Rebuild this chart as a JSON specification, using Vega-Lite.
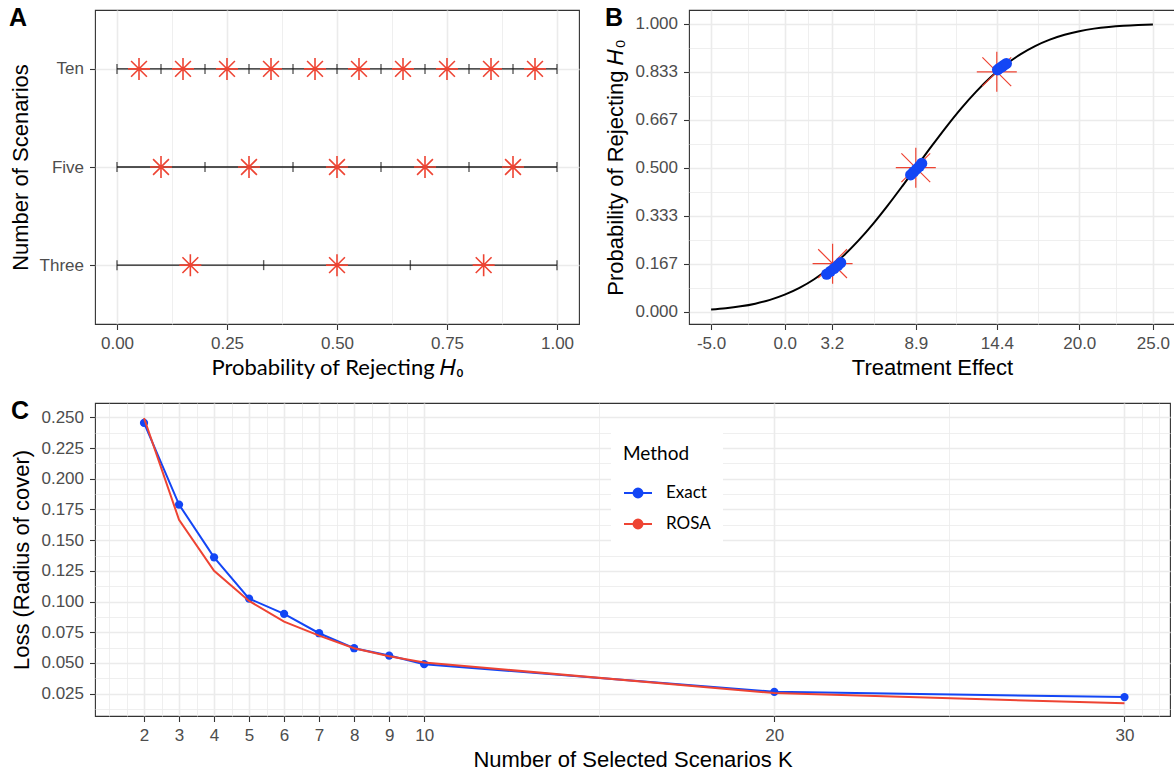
{
  "$schema": "https://vega.github.io/schema/vega-lite/v6.json",
  "background": "white",
  "padding": {"left": 8, "top": 5, "right": 0, "bottom": 0},
  "config": {
    "view": {"stroke": "#333333", "strokeWidth": 1.1},
    "axis": {
      "domain": false,
      "labelFont": "Liberation Sans", "labelFontSize": 17, "labelColor": "#4D4D4D",
      "labelPadding": 6, "labelOverlap": false, "labelFlush": false,
      "titleFont": "Liberation Sans", "titleFontSize": 22, "titleFontWeight": "normal", "titleColor": "#000000",
      "tickColor": "#333333", "tickSize": 5.5, "tickWidth": 1.1, "tickCount": 100,
      "grid": true, "gridColor": "#EBEBEB", "gridWidth": 1.6
    },
    "axisX": {"titlePadding": 6},
    "axisY": {"titlePadding": 7},
    "title": {"font": "Liberation Sans", "fontSize": 25, "fontWeight": "bold", "color": "#000000", "anchor": "start", "frame": "bounds", "baseline": "alphabetic", "offset": -21}
  },
  "datasets": {
    "a_lines": [
      {"scenarios": "Ten", "from": 0, "to": 1},
      {"scenarios": "Five", "from": 0, "to": 1},
      {"scenarios": "Three", "from": 0, "to": 1}
    ],
    "a_bounds": [
      {"scenarios": "Ten", "boundary": 0}, {"scenarios": "Ten", "boundary": 0.1}, {"scenarios": "Ten", "boundary": 0.2},
      {"scenarios": "Ten", "boundary": 0.3}, {"scenarios": "Ten", "boundary": 0.4}, {"scenarios": "Ten", "boundary": 0.5},
      {"scenarios": "Ten", "boundary": 0.6}, {"scenarios": "Ten", "boundary": 0.7}, {"scenarios": "Ten", "boundary": 0.8},
      {"scenarios": "Ten", "boundary": 0.9}, {"scenarios": "Ten", "boundary": 1},
      {"scenarios": "Five", "boundary": 0}, {"scenarios": "Five", "boundary": 0.2}, {"scenarios": "Five", "boundary": 0.4},
      {"scenarios": "Five", "boundary": 0.6}, {"scenarios": "Five", "boundary": 0.8}, {"scenarios": "Five", "boundary": 1},
      {"scenarios": "Three", "boundary": 0}, {"scenarios": "Three", "boundary": 0.3333}, {"scenarios": "Three", "boundary": 0.6667},
      {"scenarios": "Three", "boundary": 1}
    ],
    "a_stars": [
      {"scenarios": "Ten", "midpoint": 0.05}, {"scenarios": "Ten", "midpoint": 0.15}, {"scenarios": "Ten", "midpoint": 0.25},
      {"scenarios": "Ten", "midpoint": 0.35}, {"scenarios": "Ten", "midpoint": 0.45}, {"scenarios": "Ten", "midpoint": 0.55},
      {"scenarios": "Ten", "midpoint": 0.65}, {"scenarios": "Ten", "midpoint": 0.75}, {"scenarios": "Ten", "midpoint": 0.85},
      {"scenarios": "Ten", "midpoint": 0.95},
      {"scenarios": "Five", "midpoint": 0.1}, {"scenarios": "Five", "midpoint": 0.3}, {"scenarios": "Five", "midpoint": 0.5},
      {"scenarios": "Five", "midpoint": 0.7}, {"scenarios": "Five", "midpoint": 0.9},
      {"scenarios": "Three", "midpoint": 0.1667}, {"scenarios": "Three", "midpoint": 0.5}, {"scenarios": "Three", "midpoint": 0.8333}
    ],
    "b_curve": [
      {"effect": -5, "power": 0.0073}, {"effect": -4, "power": 0.0117}, {"effect": -3, "power": 0.0183},
      {"effect": -2, "power": 0.0277}, {"effect": -1, "power": 0.0409}, {"effect": 0, "power": 0.0589},
      {"effect": 1, "power": 0.0825}, {"effect": 2, "power": 0.1126}, {"effect": 3, "power": 0.1499},
      {"effect": 4, "power": 0.1946}, {"effect": 5, "power": 0.2466}, {"effect": 6, "power": 0.305},
      {"effect": 7, "power": 0.3692}, {"effect": 8, "power": 0.4372}, {"effect": 9, "power": 0.507},
      {"effect": 10, "power": 0.5766}, {"effect": 11, "power": 0.6439}, {"effect": 12, "power": 0.7071},
      {"effect": 13, "power": 0.7644}, {"effect": 14, "power": 0.8149}, {"effect": 15, "power": 0.8582},
      {"effect": 16, "power": 0.894}, {"effect": 17, "power": 0.9227}, {"effect": 18, "power": 0.9451},
      {"effect": 19, "power": 0.962}, {"effect": 20, "power": 0.9745}, {"effect": 21, "power": 0.9833},
      {"effect": 22, "power": 0.9893}, {"effect": 23, "power": 0.9934}, {"effect": 24, "power": 0.996},
      {"effect": 25, "power": 0.9977}
    ],
    "b_points": [
      {"effect": 2.85, "power": 0.13}, {"effect": 3.1, "power": 0.14}, {"effect": 3.35, "power": 0.15},
      {"effect": 3.6, "power": 0.16}, {"effect": 3.8, "power": 0.17},
      {"effect": 8.55, "power": 0.475}, {"effect": 8.75, "power": 0.485}, {"effect": 8.95, "power": 0.495},
      {"effect": 9.15, "power": 0.505}, {"effect": 9.3, "power": 0.515},
      {"effect": 14.45, "power": 0.84}, {"effect": 14.6, "power": 0.846}, {"effect": 14.75, "power": 0.851},
      {"effect": 14.9, "power": 0.857}, {"effect": 15.05, "power": 0.862}
    ],
    "b_stars": [
      {"effect": 3.25, "power": 0.1667}, {"effect": 8.9, "power": 0.5}, {"effect": 14.4, "power": 0.8333}
    ],
    "c_loss": [
      {"k": 2, "method": "Exact", "loss": 0.2455}, {"k": 3, "method": "Exact", "loss": 0.179},
      {"k": 4, "method": "Exact", "loss": 0.136}, {"k": 5, "method": "Exact", "loss": 0.1024},
      {"k": 6, "method": "Exact", "loss": 0.09}, {"k": 7, "method": "Exact", "loss": 0.0742},
      {"k": 8, "method": "Exact", "loss": 0.062}, {"k": 9, "method": "Exact", "loss": 0.056},
      {"k": 10, "method": "Exact", "loss": 0.049}, {"k": 20, "method": "Exact", "loss": 0.0265},
      {"k": 30, "method": "Exact", "loss": 0.0222},
      {"k": 2, "method": "ROSA", "loss": 0.2495}, {"k": 3, "method": "ROSA", "loss": 0.1666},
      {"k": 4, "method": "ROSA", "loss": 0.125}, {"k": 5, "method": "ROSA", "loss": 0.1005},
      {"k": 6, "method": "ROSA", "loss": 0.0837}, {"k": 7, "method": "ROSA", "loss": 0.0723},
      {"k": 8, "method": "ROSA", "loss": 0.062}, {"k": 9, "method": "ROSA", "loss": 0.0555},
      {"k": 10, "method": "ROSA", "loss": 0.0503}, {"k": 20, "method": "ROSA", "loss": 0.0255},
      {"k": 30, "method": "ROSA", "loss": 0.0171}
    ]
  },
  "spacing": 18,
  "vconcat": [
    {
      "spacing": 24,
      "hconcat": [
        {
          "width": 484, "height": 314,
          "title": {"text": "A"},
          "layer": [
            {
              "data": {"name": "a_lines"},
              "mark": {"type": "rule", "color": "#1A1A1A", "strokeWidth": 1.4},
              "encoding": {
                "x": {
                  "field": "from", "type": "quantitative",
                  "scale": {"domain": [-0.05, 1.05], "nice": false, "zero": false},
                  "axis": {
                    "title": "Probability of Rejecting 𝐻₀", "titleFont": "Lato",
                    "values": [0, 0.125, 0.25, 0.375, 0.5, 0.625, 0.75, 0.875, 1],
                    "labelExpr": "indexof([0, 0.25, 0.5, 0.75, 1], datum.value) >= 0 ? format(datum.value, '.2f') : ''",
                    "tickOpacity": {"condition": {"test": "indexof([0, 0.25, 0.5, 0.75, 1], datum.value) >= 0", "value": 1}, "value": 0},
                    "gridWidth": {"condition": {"test": "indexof([0, 0.25, 0.5, 0.75, 1], datum.value) >= 0", "value": 1.6}, "value": 0.8}
                  }
                },
                "x2": {"field": "to"},
                "y": {
                  "field": "scenarios", "type": "ordinal",
                  "scale": {"type": "point", "domain": ["Ten", "Five", "Three"], "padding": 0.6},
                  "axis": {"title": "Number of Scenarios", "grid": true}
                }
              }
            },
            {
              "data": {"name": "a_bounds"},
              "mark": {"type": "tick", "orient": "vertical", "color": "#1A1A1A", "thickness": 1.4, "size": 10},
              "encoding": {
                "x": {"field": "boundary", "type": "quantitative"},
                "y": {"field": "scenarios", "type": "ordinal"}
              }
            },
            {
              "data": {"name": "a_stars"},
              "mark": {"type": "point", "shape": "M-1,0L1,0M0,-1L0,1M-0.72,-0.72L0.72,0.72M-0.72,0.72L0.72,-0.72", "size": 484, "filled": false, "color": "#EE4433", "strokeWidth": 1.6, "opacity": 1},
              "encoding": {
                "x": {"field": "midpoint", "type": "quantitative"},
                "y": {"field": "scenarios", "type": "ordinal"}
              }
            }
          ]
        },
        {
          "width": 486, "height": 314,
          "title": {"text": "B"},
          "layer": [
            {
              "data": {"name": "b_curve"},
              "mark": {"type": "line", "color": "#000000", "strokeWidth": 2, "interpolate": "monotone"},
              "encoding": {
                "x": {
                  "field": "effect", "type": "quantitative",
                  "scale": {"domain": [-6.5, 26.5], "nice": false, "zero": false},
                  "axis": {
                    "title": "Treatment Effect",
                    "values": [-5, -2.5, 0, 1.6, 3.2, 6.05, 8.9, 11.65, 14.4, 17.2, 20, 22.5, 25],
                    "labelExpr": "indexof([-5, 0, 3.2, 8.9, 14.4, 20, 25], datum.value) >= 0 ? replace(format(datum.value, '.1f'), '−', '-') : ''",
                    "tickOpacity": {"condition": {"test": "indexof([-5, 0, 3.2, 8.9, 14.4, 20, 25], datum.value) >= 0", "value": 1}, "value": 0},
                    "gridWidth": {"condition": {"test": "indexof([-5, 0, 3.2, 8.9, 14.4, 20, 25], datum.value) >= 0", "value": 1.6}, "value": 0.8}
                  }
                },
                "y": {
                  "field": "power", "type": "quantitative",
                  "scale": {"domain": [-0.043, 1.048], "nice": false, "zero": false},
                  "axis": {
                    "title": "Probability of Rejecting 𝐻₀",
                    "values": [0, 0.0833333, 0.1666667, 0.25, 0.3333333, 0.4166667, 0.5, 0.5833333, 0.6666667, 0.75, 0.8333333, 0.9166667, 1],
                    "labelExpr": "indexof([0, 0.1666667, 0.3333333, 0.5, 0.6666667, 0.8333333, 1], datum.value) >= 0 ? format(datum.value, '.3f') : ''",
                    "tickOpacity": {"condition": {"test": "indexof([0, 0.1666667, 0.3333333, 0.5, 0.6666667, 0.8333333, 1], datum.value) >= 0", "value": 1}, "value": 0},
                    "gridWidth": {"condition": {"test": "indexof([0, 0.1666667, 0.3333333, 0.5, 0.6666667, 0.8333333, 1], datum.value) >= 0", "value": 1.6}, "value": 0.8}
                  }
                }
              }
            },
            {
              "data": {"name": "b_stars"},
              "mark": {"type": "point", "shape": "M-1,0L1,0M0,-1L0,1M-0.72,-0.72L0.72,0.72M-0.72,0.72L0.72,-0.72", "size": 1600, "filled": false, "color": "#EE4433", "strokeWidth": 1.2, "opacity": 1},
              "encoding": {
                "x": {"field": "effect", "type": "quantitative"},
                "y": {"field": "power", "type": "quantitative"}
              }
            },
            {
              "data": {"name": "b_points"},
              "mark": {"type": "point", "shape": "circle", "filled": true, "size": 125, "color": "#1346F5", "opacity": 1},
              "encoding": {
                "x": {"field": "effect", "type": "quantitative"},
                "y": {"field": "power", "type": "quantitative"}
              }
            }
          ]
        }
      ]
    },
    {
      "width": 1075, "height": 313,
      "title": {"text": "C"},
      "data": {"name": "c_loss"},
      "layer": [
        {
          "transform": [{"filter": "datum.method === 'Exact'"}],
          "mark": {"type": "line", "strokeWidth": 2},
          "encoding": {
            "x": {
              "field": "k", "type": "quantitative",
              "scale": {"domain": [0.6, 31.3], "nice": false, "zero": false},
              "axis": {
                "title": "Number of Selected Scenarios K",
                "values": [1, 1.5, 2, 2.5, 3, 3.5, 4, 4.5, 5, 5.5, 6, 6.5, 7, 7.5, 8, 8.5, 9, 9.5, 10, 15, 20, 25, 30, 30.5, 31],
                "labelExpr": "indexof([2, 3, 4, 5, 6, 7, 8, 9, 10, 20, 30], datum.value) >= 0 ? format(datum.value, 'd') : ''",
                "tickOpacity": {"condition": {"test": "indexof([2, 3, 4, 5, 6, 7, 8, 9, 10, 20, 30], datum.value) >= 0", "value": 1}, "value": 0},
                "gridWidth": {"condition": {"test": "indexof([2, 3, 4, 5, 6, 7, 8, 9, 10, 20, 30], datum.value) >= 0", "value": 1.6}, "value": 0.8}
              }
            },
            "y": {
              "field": "loss", "type": "quantitative",
              "scale": {"domain": [0.0068, 0.2617], "nice": false, "zero": false},
              "axis": {
                "title": "Loss (Radius of cover)",
                "values": [0.0125, 0.025, 0.0375, 0.05, 0.0625, 0.075, 0.0875, 0.1, 0.1125, 0.125, 0.1375, 0.15, 0.1625, 0.175, 0.1875, 0.2, 0.2125, 0.225, 0.2375, 0.25],
                "labelExpr": "indexof([0.025, 0.05, 0.075, 0.1, 0.125, 0.15, 0.175, 0.2, 0.225, 0.25], datum.value) >= 0 ? format(datum.value, '.3f') : ''",
                "tickOpacity": {"condition": {"test": "indexof([0.025, 0.05, 0.075, 0.1, 0.125, 0.15, 0.175, 0.2, 0.225, 0.25], datum.value) >= 0", "value": 1}, "value": 0},
                "gridWidth": {"condition": {"test": "indexof([0.025, 0.05, 0.075, 0.1, 0.125, 0.15, 0.175, 0.2, 0.225, 0.25], datum.value) >= 0", "value": 1.6}, "value": 0.8}
              }
            },
            "color": {
              "field": "method", "type": "nominal",
              "scale": {"domain": ["Exact", "ROSA"], "range": ["#1346F5", "#EE4433"]},
              "legend": {
                "title": "Method", "orient": "none", "legendX": 516, "legendY": 423,
                "fillColor": "white", "padding": 12,
                "titleFont": "Lato", "titleFontSize": 19, "titleFontWeight": "normal", "titleColor": "#000000", "titlePadding": 14,
                "labelFont": "Lato", "labelFontSize": 17, "labelColor": "#000000", "labelOffset": 13,
                "symbolType": "M-1,0L1,0M-0.32,0A0.32,0.32,0,1,1,0.32,0A0.32,0.32,0,1,1,-0.32,0Z",
                "symbolSize": 784, "symbolStrokeWidth": 2, "rowPadding": 7,
                "encode": {"symbols": {"update": {
                  "fill": {"signal": "datum.value === 'Exact' ? '#1346F5' : '#EE4433'"},
                  "stroke": {"signal": "datum.value === 'Exact' ? '#1346F5' : '#EE4433'"},
                  "opacity": {"value": 1}
                }}}
              }
            }
          }
        },
        {
          "transform": [{"filter": "datum.method === 'Exact'"}],
          "mark": {"type": "point", "shape": "circle", "filled": true, "size": 68, "opacity": 1},
          "encoding": {
            "x": {"field": "k", "type": "quantitative"},
            "y": {"field": "loss", "type": "quantitative"},
            "color": {"field": "method", "type": "nominal"}
          }
        },
        {
          "transform": [{"filter": "datum.method === 'ROSA'"}],
          "mark": {"type": "line", "strokeWidth": 2},
          "encoding": {
            "x": {"field": "k", "type": "quantitative"},
            "y": {"field": "loss", "type": "quantitative"},
            "color": {"field": "method", "type": "nominal"}
          }
        }
      ]
    }
  ]
}
